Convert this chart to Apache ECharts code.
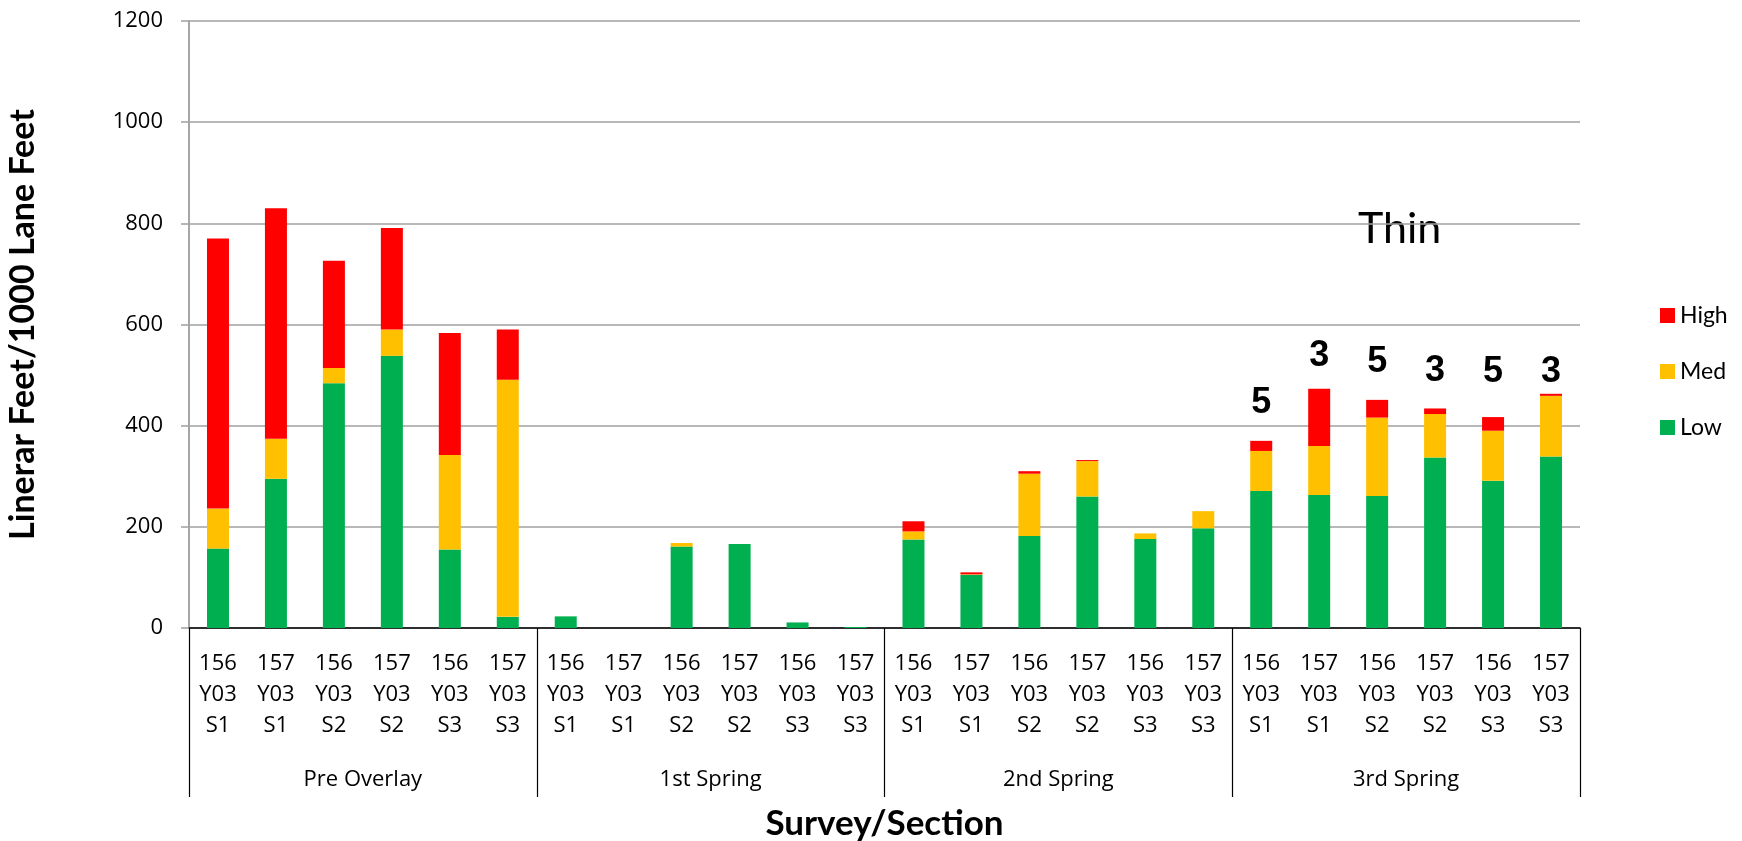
<!DOCTYPE html>
<html>
<head>
<meta charset="utf-8">
<script src="https://cdn.jsdelivr.net/npm/echarts@6/dist/echarts.min.js"></script>
<style>
  html, body { margin: 0; padding: 0; background: #fff; }
  #chart { width: 1742px; height: 841px; }
</style>
</head>
<body>
<div id="chart"></div>
<script>
// Survey groups and the sections surveyed in each
const groups = ['Pre Overlay', '1st Spring', '2nd Spring', '3rd Spring'];
const sections = ['156\nY03\nS1', '157\nY03\nS1', '156\nY03\nS2', '157\nY03\nS2', '156\nY03\nS3', '157\nY03\nS3'];

// Linear feet of cracking per 1000 lane feet, by severity
const low  = [157, 295, 484, 538, 155, 22,   23, 0, 161, 166, 11, 2,   175, 105, 182, 260, 176, 197,   271, 263, 261, 337, 291, 339];
const med  = [79, 79, 30, 52, 187, 469,      0, 0, 7, 0, 0, 0,         16, 1, 123, 70, 11, 34,         79, 97, 155, 86, 99, 120];
const high = [534, 456, 212, 201, 241, 99,   0, 0, 0, 0, 0, 0,         20, 4, 5, 2, 0, 0,              20, 113, 35, 11, 27, 4];

// Notes written above the 3rd Spring bars
const notes = ['', '', '', '', '', '',  '', '', '', '', '', '',  '', '', '', '', '', '',  '5', '3', '5', '3', '5', '3'];

const yTicks = { min: 0, max: 1200, interval: 200 };

// Category list: every group repeats the same six sections
const categories = [];
groups.forEach(() => sections.forEach(s => categories.push(s)));

// Extra gap between a bar top and its note
const noteGap = [20, 15, 20, 19, 27, 4];

const FONT = '"Open Sans", Lato, "Noto Sans", sans-serif';
const TITLE_FONT = 'Lato, "Open Sans", sans-serif';
const colors = { High: '#FF0000', Med: '#FFC000', Low: '#00B050' };

const highData = high.map((v, i) => {
  const item = { value: v };
  if (notes[i]) {
    item.label = {
      show: true, position: 'top', formatter: notes[i],
      distance: noteGap[(i - 18) % 6],
      fontFamily: '"Liberation Sans", Arial, sans-serif',
      fontWeight: 'bold', fontSize: 36, color: '#000'
    };
  }
  return item;
});

const chart = echarts.init(document.getElementById('chart'), null, { renderer: 'canvas' });
chart.setOption({
  animation: false,
  backgroundColor: '#fff',
  textStyle: { fontFamily: FONT },
  grid: { left: 189, right: 162, top: 21, bottom: 213, containLabel: false, outerBoundsMode: 'none' },
  legend: {
    orient: 'vertical', left: 1655, top: 299,
    data: ['High', 'Med', 'Low'],
    itemWidth: 15, itemHeight: 15, itemGap: 33,
    icon: 'rect',
    textStyle: { fontFamily: TITLE_FONT, fontSize: 23, color: '#000' }
  },
  xAxis: [
    {
      type: 'category', data: categories, position: 'bottom',
      axisLine: { show: true, lineStyle: { color: '#000', width: 1.5 } },
      axisTick: { show: false },
      axisLabel: { interval: 0, fontSize: 22, lineHeight: 31, color: '#000', margin: 20, fontFamily: FONT },
      splitLine: { show: false }
    },
    {
      type: 'category', data: groups, position: 'bottom', offset: 0,
      axisLine: { show: false },
      axisTick: { show: true, length: 169, interval: 0, lineStyle: { color: '#000', width: 1.2 } },
      axisLabel: { interval: 0, fontSize: 22, color: '#000', margin: 141, fontFamily: FONT },
      name: 'Survey/Section', nameLocation: 'middle', nameGap: 178,
      nameTextStyle: { fontSize: 35, fontWeight: 'bold', color: '#000', fontFamily: TITLE_FONT }
    }
  ],
  yAxis: {
    type: 'value', min: yTicks.min, max: yTicks.max, interval: yTicks.interval,
    axisLine: { show: true, lineStyle: { color: '#a6a6a6', width: 2 } },
    axisTick: { show: true, length: 8, lineStyle: { color: '#a0a0a0', width: 1.5 } },
    axisLabel: { fontSize: 22, color: '#000', margin: 26, fontFamily: FONT, formatter: v => String(v) },
    splitLine: { show: true, lineStyle: { color: '#a0a0a0', width: 1.5 } },
    name: 'Linerar Feet/1000 Lane Feet', nameLocation: 'middle', nameGap: 149,
    nameTextStyle: { fontSize: 34, fontWeight: 'bold', color: '#000', fontFamily: TITLE_FONT }
  },
  graphic: [
    {
      type: 'text', left: 1358, top: 208,
      style: { text: 'Thin', fontSize: 43, fontFamily: TITLE_FONT, fill: '#000' }
    }
  ],
  series: [
    { name: 'Low', type: 'bar', stack: 'sev', data: low, barWidth: 22, itemStyle: { color: colors.Low } },
    { name: 'Med', type: 'bar', stack: 'sev', data: med, barWidth: 22, itemStyle: { color: colors.Med } },
    { name: 'High', type: 'bar', stack: 'sev', data: highData, barWidth: 22, itemStyle: { color: colors.High } }
  ]
});
</script>
</body>
</html>
